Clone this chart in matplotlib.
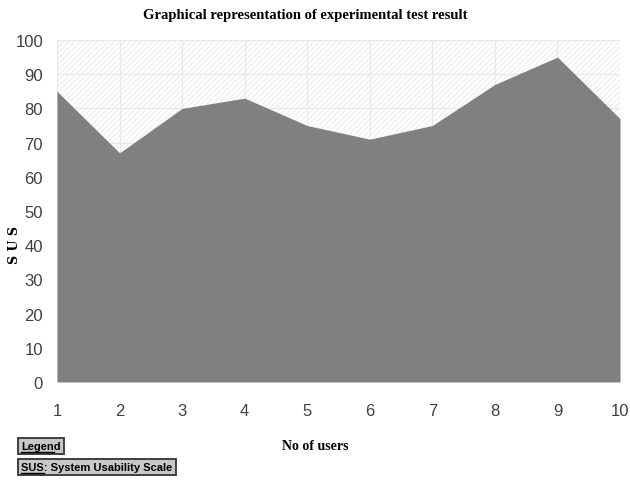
import matplotlib
matplotlib.use("Agg")
import matplotlib.pyplot as plt
from matplotlib.lines import Line2D

users = [1, 2, 3, 4, 5, 6, 7, 8, 9, 10]
sus = [85, 67, 80, 83, 75, 71, 75, 87, 95, 77]
yticks = [0, 10, 20, 30, 40, 50, 60, 70, 80, 90, 100]

fig = plt.figure(figsize=(6.3, 4.81), dpi=100)
ax = fig.add_axes([57/630, 1-383/481, (620-57)/630, (383-41)/481])

# hatched background
ax.fill_between([1, 10], 0, 100, facecolor="white", edgecolor="#f0f0f0", hatch="//////", linewidth=0, zorder=0)
ax.grid(True, color="#e8e8e8", linewidth=0.8, zorder=1)
ax.fill_between(users, sus, 0, color="#808080", linewidth=0, zorder=2)

ax.set_xlim(1, 10)
ax.set_ylim(0, 100)
ax.set_xticks(users)
ax.set_yticks(yticks)
for s in ax.spines.values():
    s.set_visible(False)
ax.tick_params(length=0, labelsize=12, colors="#404040", pad=10)
for lab in ax.get_xticklabels() + ax.get_yticklabels():
    lab.set_family("Liberation Sans")
ax.tick_params(axis="x", pad=15)

fig.text(305/630, 1-16/481, "Graphical representation of experimental test result",
         ha="center", va="center", fontsize=10.5, fontweight="bold", family="Liberation Serif")
fig.text(15/630, 1-245/481, "S U S", rotation=90, ha="center", va="center",
         fontsize=9, fontweight="bold", family="DejaVu Serif")
fig.text(315/630, 1-447/481, "No of users", ha="center", va="center",
         fontsize=10, fontweight="bold", family="Liberation Serif")

bbox = dict(boxstyle="square,pad=0.3", facecolor="#c8c8c8", edgecolor="#333333", linewidth=1.3)
fig.text(21/630, 1-447/481, "Legend", ha="left", va="center", fontsize=8,
         fontweight="bold", family="Liberation Sans", bbox=bbox)
fig.text(21/630, 1-468/481, "SUS: System Usability Scale", ha="left", va="center", fontsize=8,
         fontweight="bold", family="Liberation Sans", bbox=bbox)
fig.add_artist(Line2D([21/630, 54/630], [1-453/481, 1-453/481], color="black", linewidth=1, zorder=10))
fig.add_artist(Line2D([21/630, 44/630], [1-474/481, 1-474/481], color="black", linewidth=1, zorder=10))

fig.savefig("out.png", dpi=100)
